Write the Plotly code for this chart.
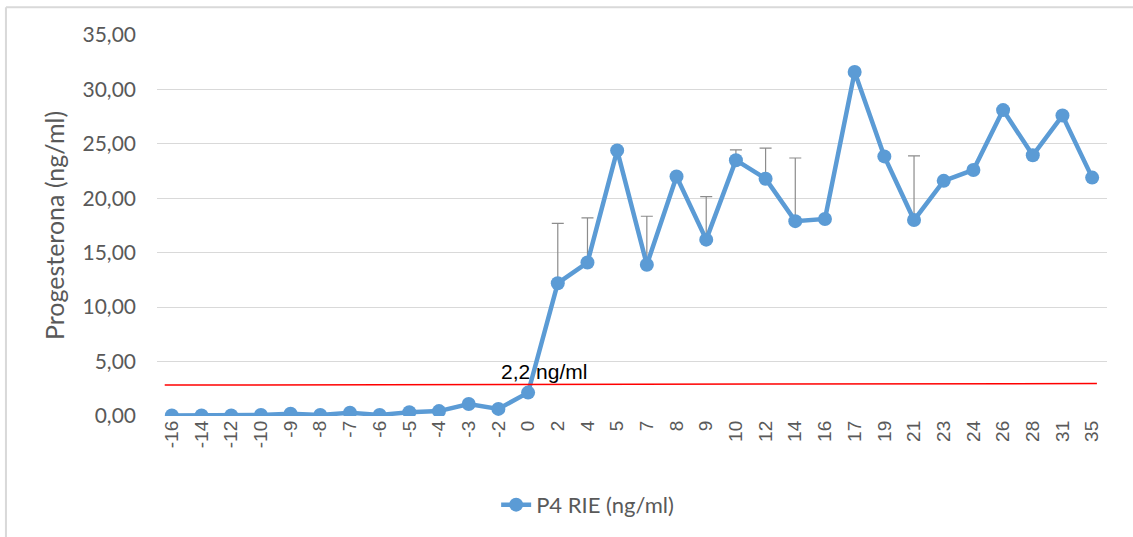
import plotly.graph_objects as go

days = ["-16", "-14", "-12", "-10", "-9", "-8", "-7", "-6", "-5", "-4", "-3", "-2", "0",
        "2", "4", "5", "7", "8", "9", "10", "12", "14", "16", "17", "19", "21", "23", "24",
        "26", "28", "31", "35"]
p4 = [0.05, 0.05, 0.05, 0.1, 0.2, 0.1, 0.3, 0.1, 0.35, 0.45, 1.1, 0.65, 2.15,
      12.2, 14.1, 24.4, 13.9, 22.0, 16.2, 23.5, 21.8, 17.9, 18.1, 31.6, 23.85, 18.0, 21.6, 22.6,
      28.1, 23.95, 27.6, 21.9]
err_days = ["2", "4", "7", "9", "10", "12", "14", "21"]
err_plus = [5.5, 4.1, 4.45, 3.95, 0.95, 2.8, 5.8, 5.9]
threshold_label = "2,2 ng/ml"
threshold_y = [2.84, 2.98]

err_y = [p4[days.index(d)] for d in err_days]

fig = go.Figure()
fig.add_trace(go.Scatter(
    x=err_days, y=err_y, mode="markers", showlegend=False, hoverinfo="skip",
    marker=dict(size=1, color="rgba(0,0,0,0)"),
    error_y=dict(type="data", array=err_plus, arrayminus=[0] * len(err_plus),
                 symmetric=False, color="#8c8c8c", thickness=1.2, width=6)))
fig.add_trace(go.Scatter(
    x=days, y=p4, mode="lines+markers", name="P4 RIE (ng/ml)",
    line=dict(color="#5B9BD5", width=4.5),
    marker=dict(size=14, color="#5B9BD5")))

n = len(days)
fig.add_shape(type="line", xref="x", yref="y", x0=-0.24, x1=n - 1 + 0.16,
              y0=threshold_y[0], y1=threshold_y[1], line=dict(color="#ff0000", width=1.5))
fig.add_annotation(x=12.55, y=4.1, xref="x", yref="y", text=threshold_label, showarrow=False,
                   font=dict(family="Liberation Sans, Arial", size=21, color="#000000"))
# outer frame
fig.add_shape(type="line", xref="paper", yref="paper", x0=-0.159, x1=1.03, y0=1.073, y1=1.073,
              line=dict(color="#d9d9d9", width=2))
fig.add_shape(type="line", xref="paper", yref="paper", x0=-0.159, x1=-0.159, y0=1.073, y1=-0.33,
              line=dict(color="#d9d9d9", width=2))

fig.update_layout(
    width=1133, height=537,
    margin=dict(l=157, r=26, t=35, b=120),
    plot_bgcolor="white", paper_bgcolor="white",
    font=dict(family="Lato, Calibri, sans-serif", color="#595959", size=21),
    showlegend=True,
    legend=dict(orientation="h", x=0.357, xanchor="left", y=-0.23, yanchor="middle",
                font=dict(family="Lato, Calibri, sans-serif", size=22, color="#595959")),
    xaxis=dict(type="category", categoryorder="array", categoryarray=days,
               tickangle=-90, showgrid=False, showline=False, zeroline=False,
               ticks="", tickfont=dict(family="Liberation Sans, Arial, sans-serif", size=19,
                                       color="#595959"),
               range=[-0.5, n - 0.5]),
    yaxis=dict(range=[0, 35], dtick=5, tickformat=".2f",
               showgrid=True, gridcolor="#d9d9d9", gridwidth=1, zeroline=False,
               showline=False, ticks="", ticklabelstandoff=20,
               tickfont=dict(family="Lato, Calibri, sans-serif", size=21, color="#595959"),
               title=dict(text="Progesterona (ng/ml)",
                          font=dict(family="Lato, Calibri, sans-serif", size=25, color="#595959"),
                          standoff=10)),
    separators=",.",
)
fig.write_html("out.html")
